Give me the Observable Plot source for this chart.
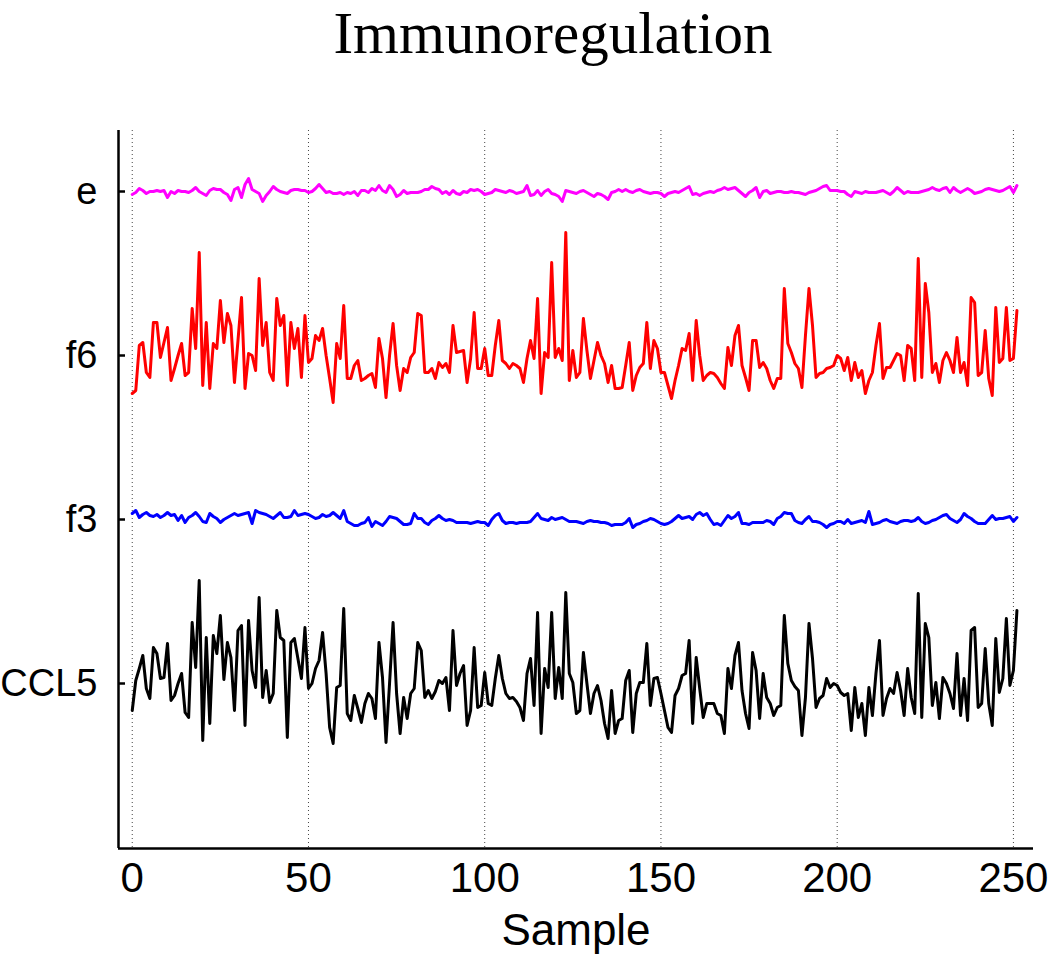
<!DOCTYPE html>
<html><head><meta charset="utf-8">
<script src="https://cdn.jsdelivr.net/npm/d3@7"></script>
<script src="https://cdn.jsdelivr.net/npm/@observablehq/plot@0.6"></script>
<style>
body{margin:0;background:#fff;}
#title{height:80px;font-family:"Liberation Serif","Times New Roman",serif;font-size:59px;line-height:66px;text-align:center;color:#000;padding-left:56px;box-sizing:border-box;}
</style></head><body>
<div id="title">Immunoregulation</div>
<div id="chart"></div>
<script>
const seriesNames = ["e", "f6", "f3", "CCL5"];
const seriesColors = ["#ff00ff", "#ff0000", "#0000ff", "#000000"];
const xTicks = [0, 50, 100, 150, 200, 250];
const xLabel = "Sample";

const e = [
-3,-1,3,1,-2,0,0,1,0,1, -6,0,-2,1,0,0,-1,1,4,0, -2,-4,1,3,2,2,-1,-3,-9,2, 4,-6,7,13,2,0,-2,-10,-4,0,
5,2,0,-1,-2,1,2,2,1,1, -1,0,3,7,3,-1,0,-2,-2,-1, -3,-1,-2,0,-4,1,1,-1,3,1, 6,1,-1,6,2,-5,-3,1,-2,-1,
-1,-1,0,2,2,5,3,2,-2,0, -3,1,-2,-3,0,-1,2,1,2,0, -3,-2,-1,2,1,0,-1,1,0,-2, -1,0,6,-4,-3,1,-4,0,2,-2,
-3,-5,-10,1,0,-1,-2,0,1,-1, -3,-5,-2,-3,-5,-8,-1,0,2,0, 2,0,-1,1,2,0,-1,-2,-1,-1, -2,-5,-2,-1,0,-1,1,3,5,-3,
-2,-4,-2,-1,0,-1,1,2,4,2, 3,4,1,-2,-5,-1,1,4,-6,0, 1,-2,-1,0,0,-1,-1,0,-1,-1, -2,-3,-1,0,1,3,5,6,1,1,
1,0,0,-3,-5,0,-1,-2,0,-1, -1,-1,0,1,-1,-3,0,4,1,-2, 0,-1,-1,-1,0,1,2,4,2,1, 3,4,-1,4,1,-1,1,3,1,-2,
-1,0,2,3,2,1,0,1,3,5, -1,6];

const f6 = [
-38,-35,10,13,-17,-22,33,33,-2,13, 28,-25,-13,0,12,-20,-17,47,7,103, -30,33,-33,12,7,55,13,42,30,-27, 15,58,-33,2,0,-15,77,10,33,-17,
-25,57,30,40,-30,33,7,27,-22,40, -7,-3,20,15,27,0,-23,-47,12,-3, 50,-23,-23,-10,-5,-25,-23,-20,-18,-32, 17,-3,-42,0,32,-10,-35,-13,-17,-2,
3,42,40,-17,-17,-13,-23,-7,-12,-8, -17,30,3,4,5,-27,-3,43,-13,-13, 7,-20,-20,10,35,-5,-8,-13,-8,-10, -13,-27,-3,15,-3,57,-38,3,-2,93,
-2,7,-5,123,-25,5,-22,-17,37,5, -23,-5,13,0,-8,-27,-10,-33,-33,-32, -10,13,-35,-20,-12,-8,33,-13,15,7, -17,-17,-30,-43,-25,-10,7,5,22,-25,
35,0,-25,-20,-17,-18,-22,-28,-33,8, -10,20,30,-10,-22,-35,15,15,-12,-7, -13,-25,-33,-23,-23,67,12,3,-8,-13, -32,20,67,30,-22,-18,-17,-13,-12,-10,
0,-3,-15,-2,-25,-7,-22,-15,-38,-25, -17,10,32,-23,-12,-12,-5,2,0,-25, 10,7,-25,97,-22,72,43,-17,-8,-27, -5,3,-5,-17,18,-17,-7,-30,58,53,
-20,-17,25,-23,-40,48,-7,-3,48,-5, -3,45];

const f3 = [
6,9,2,5,7,4,3,5,2,4, 7,4,5,-1,4,-3,2,4,7,3, -2,-3,6,3,1,-3,0,2,4,6, 4,5,6,7,-4,9,7,6,5,3,
1,4,7,2,2,3,9,4,5,6, 5,3,1,2,5,3,4,7,4,1, 9,-2,-4,-6,-6,-4,-3,2,-7,-2, -4,-6,-2,3,2,1,-2,-5,-5,-4,
6,1,1,-3,-5,-1,1,4,1,-1, 0,-1,-3,-3,-3,-3,-4,-3,-2,-3, -3,-6,0,4,6,-1,-4,-3,-3,-4, -3,-3,-3,-2,2,6,1,0,-1,2,
0,1,2,0,-2,-2,-2,-3,-4,-2, -1,-2,-2,-3,-3,-4,-6,-5,-5,-5, -3,1,-8,-5,-4,-2,-1,1,0,-2, -4,-5,-4,-2,1,4,1,2,3,0,
5,7,4,6,0,-5,-4,-6,-1,4, 1,3,7,-4,-4,-5,-3,-3,-3,-3, -1,-2,-5,1,3,7,6,6,-1,-3, -4,0,3,-2,-2,-3,-5,-8,-5,-4,
-2,-2,-4,0,-4,-3,-2,-1,-3,8, -5,-4,-3,-1,0,-2,-3,-4,-2,-1, -1,-2,-1,2,-2,-4,-3,-1,0,2, 4,5,1,-1,-3,0,6,3,1,-2,
-4,-4,-4,0,4,0,1,1,2,3, -2,2];

const CCL5 = [
-27,3,15,28,-5,-15,36,30,5,6, 40,-17,-12,0,10,-29,-34,61,16,103, -57,46,-40,48,30,68,4,41,26,-27, 53,58,-42,63,13,-4,86,-14,13,-19,
-10,73,46,43,-54,41,45,25,5,56, -5,0,15,23,51,10,-44,-60,-4,-2, 75,-30,-37,-12,-25,-39,-20,-10,-15,-35, 41,6,-59,0,61,-10,-50,-14,-35,-10,
-5,41,33,-14,-7,-15,-8,3,0,6, -27,53,-2,10,18,-42,-27,36,-24,-22, 11,-20,-22,5,28,5,-10,-15,-14,-18, -24,-37,10,25,-22,71,-50,15,-4,71,
-15,16,-15,91,10,1,-30,-27,31,0, -30,-10,-2,-17,-40,-55,-7,-50,-37,-35, 3,13,-49,-10,1,1,40,-22,5,6, -10,-27,-44,-49,-12,-5,8,10,43,-40,
26,-5,-34,-20,-20,-20,-30,-32,-50,15, -5,28,41,-7,-30,-45,31,13,-35,10, -14,-20,-32,-24,-22,68,20,3,-3,-7, -52,-14,60,25,-24,-15,-12,5,-4,0,
-2,-9,-12,-10,-47,-4,-34,-20,-52,-4, -32,10,43,-32,-15,-5,-10,11,-7,-32, 15,-14,-30,90,-34,60,46,-22,1,-35, 6,0,-10,-25,30,-32,5,-37,53,56,
-24,-20,35,-20,-42,45,-9,5,65,-2, 13,73];

const seriesValues = [e, f6, f3, CCL5];

// layout
const W = 1050, H = 875;
const mL = 118, mR = 17, mT = 50, mB = 107;
const spacing = 164;
const xDomain = [-3.9, 255.7];
const yDomain = [-165, 553];

const bases = seriesNames.map((n, k) => (seriesNames.length - 1 - k) * spacing);
const nameAt = new Map(bases.map((b, k) => [b, seriesNames[k]]));
const rows = seriesNames.flatMap((n, k) => seriesValues[k].map((v, i) => ({series: n, sample: i, y: bases[k] + v})));

const chart = Plot.plot({
  width: W, height: H,
  marginLeft: mL, marginRight: mR, marginTop: mT, marginBottom: mB,
  x: {domain: xDomain},
  y: {domain: yDomain},
  color: {domain: seriesNames, range: seriesColors},
  style: {fontFamily: "'Liberation Sans', Arial, sans-serif", color: "#000", background: "#fff", overflow: "visible"},
  marks: [
    Plot.ruleX(xTicks, {stroke: "#444", strokeDasharray: "1,3", strokeWidth: 1}),
    Plot.line(rows, {x: "sample", y: "y", z: "series", stroke: "series", strokeWidth: 3}),
    Plot.ruleX([xDomain[0]], {stroke: "#000", strokeWidth: 2.5}),
    Plot.ruleY([yDomain[0]], {stroke: "#000", strokeWidth: 2.5}),
    Plot.tickY(bases, {stroke: "#000", strokeWidth: 2.5, insetRight: W - mL - mR - 7}),
    Plot.axisX({ticks: xTicks, tickSize: 0, tickPadding: 14, fontSize: 42, label: null}),
    Plot.axisY({ticks: bases, tickSize: 0, tickPadding: 21, fontSize: 38, tickFormat: d => nameAt.get(d), label: null}),
    Plot.text([xLabel], {frameAnchor: "bottom", dy: 96, fontSize: 44, fill: "#000"})
  ]
});
document.getElementById("chart").appendChild(chart);
</script>
</body></html>
